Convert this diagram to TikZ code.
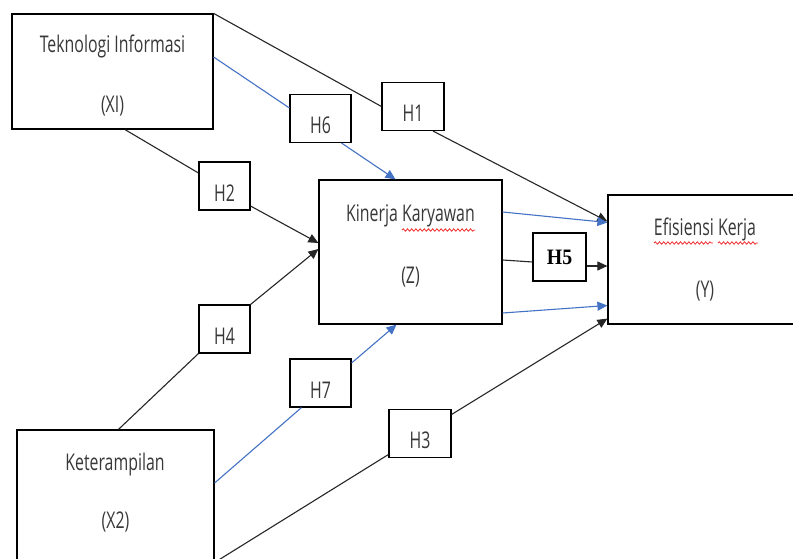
\documentclass[tikz,border=0pt]{standalone}
\usepackage{fontspec}
\setmainfont[FakeStretch=0.69]{Open Sans}
\newfontfamily\hfont[FakeStretch=0.9]{Liberation Serif}
\usetikzlibrary{arrows.meta,calc,decorations.pathmorphing}
\definecolor{ink}{HTML}{262626}
\definecolor{txtc}{HTML}{383838}
\definecolor{blu}{HTML}{4472C4}
\definecolor{wavy}{HTML}{F03030}
\begin{document}
\begin{tikzpicture}[x=1pt,y=-1pt,
  bigbox/.style={draw=black,line width=1.2pt,inner sep=0pt},
  hbox/.style={draw=black,line width=1.1pt,inner sep=0pt,minimum height=48pt,
    text height=30pt,text depth=0pt,font=\fontsize{23}{26}\selectfont,text=txtc},
  txt/.style={inner sep=0pt,anchor=base,font=\fontsize{23}{26}\selectfont,text=txtc},
  conn/.style={draw=ink,line width=1.1pt},
  bconn/.style={draw=blu,line width=1.1pt},
  tip/.style={-{Triangle[length=10pt,width=9pt]}},
  squiggle/.style={draw=wavy,line width=0.8pt,decorate,
    decoration={snake,amplitude=1.2pt,segment length=4.2pt}}
]
\useasboundingbox (0,0) rectangle (793,559);
\clip (0,0) rectangle (793,559);
\fill[white] (0,0) rectangle (793,559);

% main boxes
\node[bigbox,minimum width=201pt,minimum height=115pt] (XI) at (112.5,71.5) {};
\node[bigbox,minimum width=183pt,minimum height=144pt] (Z) at (410.5,252) {};
\node[bigbox,minimum width=192pt,minimum height=129pt] (Y) at (704,259.5) {};
\node[bigbox,minimum width=197pt,minimum height=145pt] (X2) at (115.5,502.5) {};

% box texts
\node[txt] (XIa) at (112.5,53) {Teknologi Informasi};
\node[txt] (XIb) at (112.5,113) {(XI)};
\node[txt] (Za) at (410.5,222) {Kinerja Karyawan};
\node[txt] (Zb) at (410.5,283) {(Z)};
\node[txt] (Ya) at (705,235) {Efisiensi Kerja};
\node[txt] (Yb) at (705,297) {(Y)};
\node[txt] (X2a) at (115,470) {Keterampilan};
\node[txt] (X2b) at (115.5,528) {(X2)};

% spell-check underlines
\draw[squiggle] (402,230) -- (475,230);
\draw[squiggle] (654,243) -- (713,243);
\draw[squiggle] (718,243) -- (758,243);

% hypothesis boxes
\node[hbox,minimum width=62pt] (H1) at (413,106.5) {H1};
\node[hbox,minimum width=61pt] (H6) at (320.5,118.5) {H6};
\node[hbox,minimum width=51pt] (H2) at (224.5,186) {H2};
\node[hbox,minimum width=51pt] (H4) at (224.5,329) {H4};
\node[hbox,minimum width=61pt] (H7) at (320.5,383) {H7};
\node[hbox,minimum width=62pt] (H3) at (420,433.5) {H3};
\node[draw=black,line width=1.1pt,inner sep=0pt,minimum width=53pt,minimum height=48pt,
  font=\hfont\bfseries\fontsize{22}{24}\selectfont,text=black] (H5) at (559.5,257) {H5};

% connectors
\draw[conn] (XI.north east) -- (H1.west);
\draw[conn,tip] ($(H1.south)+(20,0)$) -- ($(Y.north west)+(0,27)$);
\draw[bconn] ($(XI.east)+(0,-14.5)$) -- ($(H6.west)+(0,-10.5)$);
\draw[bconn,tip] ($(H6.south)+(21,0)$) -- ($(Z.north)+(-15,0)$);
\draw[conn] ($(XI.south)+(12.5,0)$) -- ($(H2.west)+(0,-13)$);
\draw[conn,tip] ($(H2.east)+(0,20)$) -- ($(Z.west)+(0,-9)$);
\draw[conn] ($(X2.north)+(3,0)$) -- (H4.south west);
\draw[conn,tip] (H4.north east) -- ($(Z.west)+(0,-3)$);
\draw[bconn] ($(X2.east)+(0,-19.5)$) -- ($(H7.south)+(-19,0)$);
\draw[bconn,tip] ($(H7.east)+(0,-20)$) -- ($(Z.south)+(-14,0)$);
\draw[conn] ($(X2.east)+(0,60)$) -- ($(H3.west)+(0,21)$);
\draw[conn,tip] ($(H3.east)+(0,-19)$) -- ($(Y.south west)+(0,-6)$);
\draw[bconn,tip] ($(Z.east)+(0,-40)$) -- ($(Y.west)+(0,-37)$);
\draw[conn] ($(Z.east)+(0,8)$) -- ($(H5.west)+(0,5)$);
\draw[conn,tip] ($(H5.east)+(0,9)$) -- ($(Y.west)+(0,6.5)$);
\draw[bconn,tip] ($(Z.east)+(0,61)$) -- ($(Y.west)+(0,46)$);
\end{tikzpicture}
\end{document}
